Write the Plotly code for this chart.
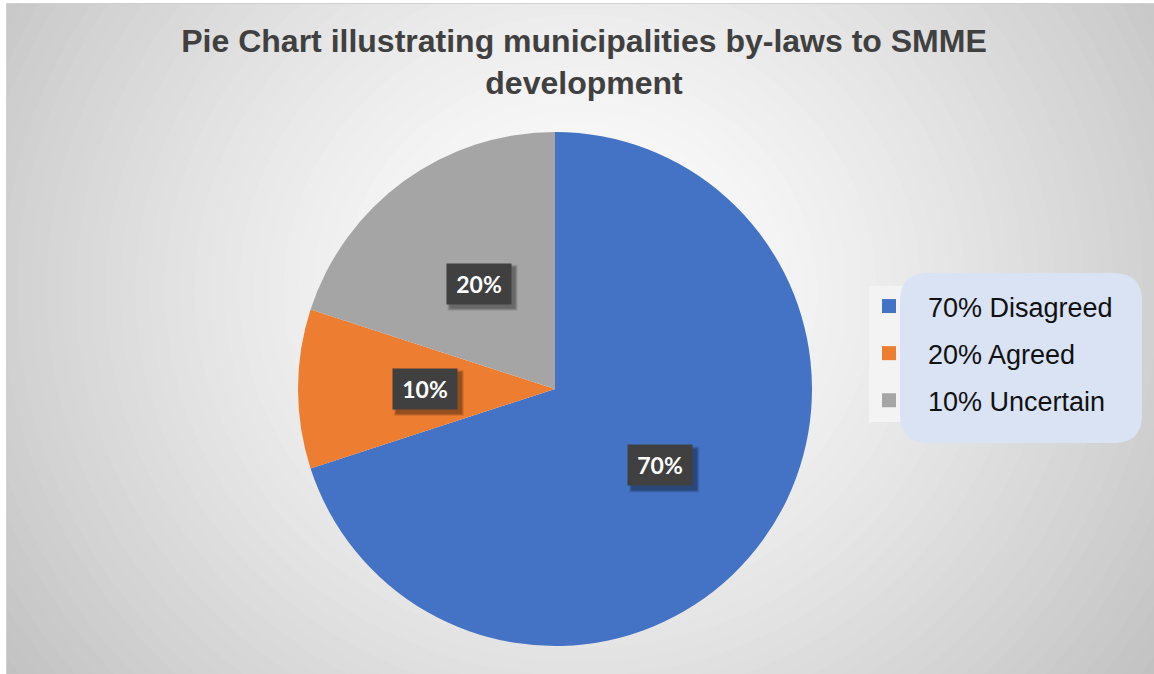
import math
import plotly.graph_objects as go

# ---- data ----
labels = ["70% Disagreed", "20% Agreed", "10% Uncertain"]
values = [70, 10, 20]
colors = ["#4472C4", "#ED7D31", "#A5A5A5"]
title_text = "Pie Chart illustrating municipalities by-laws to SMME<br>development"

W, H = 1154, 674
CX, CY, R = 555, 389, 257


def px(x):
    return x / W


def py(y):
    return 1 - y / H


shapes = []
# radial gradient background (concentric ellipses)
GCX, GCY, GA, GB = 580, 290, 570, 530
N = 50
dmax = 1.3
ds = [dmax * (1 - i / N) for i in range(N)]
for i, d in enumerate(ds):
    dn = ds[i + 1] if i + 1 < N else 0
    dm = (d + dn) / 2
    b = int(round(255 - 46 * dm ** 1.35))
    b = max(0, min(255, b))
    col = f"rgb({b},{b},{b})"
    shapes.append(dict(type="circle", xref="paper", yref="paper",
                       x0=px(GCX - GA * d), x1=px(GCX + GA * d),
                       y0=py(GCY + GB * d), y1=py(GCY - GB * d),
                       fillcolor=col, line=dict(width=0), layer="below"))
# white outer strips and border line
shapes.append(dict(type="rect", xref="paper", yref="paper", x0=0, x1=px(6), y0=0, y1=1,
                   fillcolor="white", line=dict(width=0), layer="below"))
shapes.append(dict(type="rect", xref="paper", yref="paper", x0=0, x1=1, y0=py(3), y1=1,
                   fillcolor="white", line=dict(width=0), layer="below"))
shapes.append(dict(type="line", xref="paper", yref="paper", x0=px(6.5), x1=px(6.5), y0=0, y1=py(3),
                   line=dict(color="#D0D0D0", width=1), layer="below"))
shapes.append(dict(type="line", xref="paper", yref="paper", x0=px(6.5), x1=1, y0=py(3.5), y1=py(3.5),
                   line=dict(color="#D0D0D0", width=1), layer="below"))

# legend background pieces
shapes.append(dict(type="rect", xref="paper", yref="paper", x0=px(869), x1=px(1000),
                   y0=py(422), y1=py(286), fillcolor="#F3F3F3", line=dict(width=0), layer="below"))


def rounded_path(x0, y0, x1, y1, r):
    pts = [
        ("M", [(x0 + r, y0)]),
        ("L", [(x1 - r, y0)]),
        ("Q", [(x1, y0), (x1, y0 + r)]),
        ("L", [(x1, y1 - r)]),
        ("Q", [(x1, y1), (x1 - r, y1)]),
        ("L", [(x0 + r, y1)]),
        ("Q", [(x0, y1), (x0, y1 - r)]),
        ("L", [(x0, y0 + r)]),
        ("Q", [(x0, y0), (x0 + r, y0)]),
    ]
    s = ""
    for cmd, ps in pts:
        s += cmd + " " + " ".join(f"{px(a):.5f},{py(b):.5f}" for a, b in ps) + " "
    return s + "Z"


shapes.append(dict(type="path", xref="paper", yref="paper",
                   path=rounded_path(900, 273, 1142, 443, 28),
                   fillcolor="#DAE3F3", line=dict(width=0), layer="below"))

fig = go.Figure()
fig.add_trace(go.Pie(
    labels=labels, values=values, sort=False, direction="clockwise", rotation=0,
    marker=dict(colors=colors, line=dict(width=0)), textinfo="none",
    showlegend=False,
    domain=dict(x=[px(CX - R), px(CX + R)], y=[py(CY + R), py(CY - R)]),
))

# legend entries
for lab, col in zip(labels, colors):
    fig.add_trace(go.Scatter(x=[None], y=[None], mode="markers", name=lab, legendgroup=lab,
                             marker=dict(symbol="square", size=14, color=col)))

# data labels (dark boxes with soft shadow)
annotations = []
total = sum(values)
cum = 0
BW, BH = 64, 40
for v in values:
    mid = (cum + v / 2) / total * 2 * math.pi
    cum += v
    lx = CX + 0.506 * R * math.sin(mid)
    ly = CY - 0.506 * R * math.cos(mid)
    for k, op in ((3, 0.10), (2, 0.14), (1, 0.18)):
        sx, sy = lx + 4, ly + 4
        shapes.append(dict(type="rect", xref="paper", yref="paper", layer="above",
                           x0=px(sx - BW / 2 - k), x1=px(sx + BW / 2 + k),
                           y0=py(sy + BH / 2 + k), y1=py(sy - BH / 2 - k),
                           fillcolor=f"rgba(0,0,0,{op})", line=dict(width=0)))
    txt = f"<b>{round(v / total * 100)}%</b>"
    annotations.append(dict(x=px(lx), y=py(ly), xref="paper", yref="paper", text=txt,
                            xanchor="center", yanchor="middle",
                            showarrow=False, width=BW, height=BH, bgcolor="#404040",
                            font=dict(family="Lato", size=23, color="white"), borderpad=0))

fig.update_layout(
    width=W, height=H, margin=dict(l=0, r=0, t=0, b=0),
    paper_bgcolor="white", plot_bgcolor="rgba(0,0,0,0)",
    xaxis=dict(visible=False), yaxis=dict(visible=False),
    title=dict(text=title_text, x=px(584), xanchor="center", y=py(52), yanchor="top",
               font=dict(family="Liberation Sans", size=32, color="#404040", weight="bold")),
    legend=dict(x=px(850), xanchor="left", y=py(282), yanchor="top", bgcolor="rgba(0,0,0,0)",
                font=dict(family="Liberation Sans", size=27, color="#111111"),
                tracegroupgap=9, traceorder="grouped", itemwidth=68),
    shapes=shapes, annotations=annotations,
)

fig.write_html("out.html", config={"displayModeBar": False},
               post_script="document.body.style.margin='0';document.body.style.overflow='hidden';")
